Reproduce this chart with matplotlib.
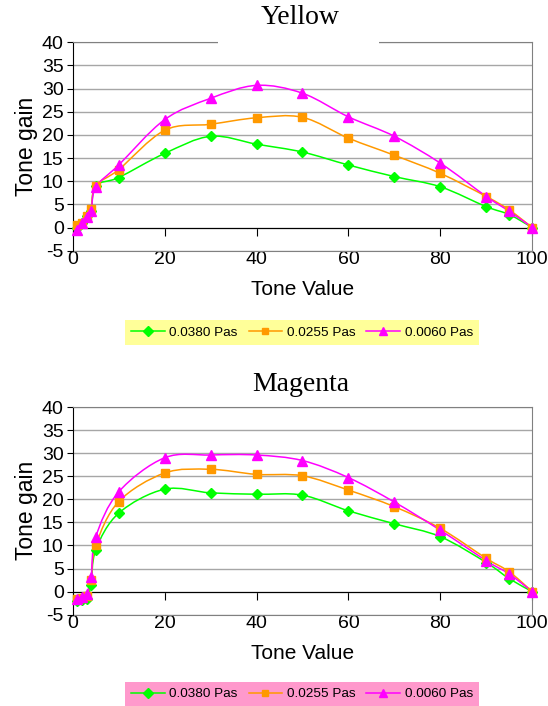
import numpy as np
import matplotlib
matplotlib.use("Agg")
import matplotlib.pyplot as plt
from matplotlib.path import Path
from matplotlib.patches import PathPatch, Rectangle
from matplotlib.lines import Line2D

plt.rcParams['font.family'] = ['Liberation Sans', 'DejaVu Sans']
plt.rcParams['axes.unicode_minus'] = False

# ---------------------------------------------------------
# Data
# ---------------------------------------------------------
tone_value = [1, 2, 3, 4, 5, 10, 20, 30, 40, 50, 60, 70, 80, 90, 95, 100]
series_labels = ["0.0380 Pas", "0.0255 Pas", "0.0060 Pas"]

yellow_0380 = [0.0, 1.0, 2.5, 3.5, 9.0, 10.8, 16.0, 19.7, 18.0, 16.3, 13.5, 11.0, 8.8, 4.5, 2.8, 0.0]
yellow_0255 = [0.5, 1.0, 2.5, 4.0, 9.0, 12.5, 21.0, 22.3, 23.7, 23.8, 19.3, 15.6, 11.7, 6.7, 3.8, 0.0]
yellow_0060 = [-0.5, 1.0, 2.3, 3.5, 8.7, 13.5, 23.3, 27.9, 30.7, 29.0, 23.9, 19.7, 13.9, 6.7, 3.5, 0.0]

magenta_0380 = [-2.0, -1.8, -1.5, 1.5, 9.0, 17.0, 22.2, 21.4, 21.1, 20.9, 17.5, 14.7, 11.9, 6.3, 2.8, 0.0]
magenta_0255 = [-1.5, -1.3, -1.0, 2.5, 10.0, 19.5, 25.7, 26.5, 25.4, 25.1, 22.0, 18.4, 13.7, 7.2, 4.3, 0.0]
magenta_0060 = [-1.5, -1.2, -0.5, 3.2, 11.8, 21.6, 29.0, 29.6, 29.6, 28.4, 24.7, 19.4, 13.3, 6.7, 3.8, 0.0]

colors = ["#00FF00", "#FF9900", "#FF00FF"]
markers = ["D", "s", "^"]
msizes = [5.5, 5.5, 7]


def smooth_path(x, y):
    """Excel-like smoothed line: cubic Bezier segments (Catmull-Rom)."""
    p = np.column_stack([x, y]).astype(float)
    ext = np.vstack([p[0], p, p[-1]])
    verts = [p[0]]
    codes = [Path.MOVETO]
    for i in range(len(p) - 1):
        p0, p1, p2, p3 = ext[i], ext[i + 1], ext[i + 2], ext[i + 3]
        c1 = p1 + (p2 - p0) / 6.0
        c2 = p2 - (p3 - p1) / 6.0
        verts += [c1, c2, p2]
        codes += [Path.CURVE4] * 3
    return Path(verts, codes)


def draw_chart(ax, data):
    ax.set_xlim(0, 100)
    ax.set_ylim(-5, 40)
    ax.set_yticks(np.arange(-5, 41, 5))
    ax.set_xticks(np.arange(0, 101, 20))
    ax.yaxis.grid(True, color="#A6A6A6", lw=1.0)
    ax.set_axisbelow(True)

    for ys, c, m, ms in zip(data, colors, markers, msizes):
        ax.add_patch(PathPatch(smooth_path(tone_value, ys), fc="none", ec=c, lw=1.1, zorder=3))
        ax.plot(tone_value, ys, ls="none", marker=m, color=c, ms=ms, zorder=4, clip_on=False)

    # frame: black left spine, grey border, x axis line at 0
    for s in ["top", "right"]:
        ax.spines[s].set_color("#808080")
    ax.spines["left"].set_color("black")
    ax.spines["bottom"].set_position(("data", 0))
    ax.spines["bottom"].set_color("black")
    ax.tick_params(axis="x", direction="out", length=6, color="black", labelbottom=False)
    ax.tick_params(axis="y", direction="out", length=4, labelsize=14, pad=2.5)

    sec = ax.secondary_xaxis(0.0)
    sec.set_xticks(np.arange(0, 101, 20))
    sec.tick_params(length=0, labelsize=14, pad=0.5)
    sec.spines["bottom"].set_color("#808080")

    ax.set_ylabel("Tone gain", fontsize=16.5, labelpad=3)
    sec.set_xlabel("Tone Value", fontsize=15, labelpad=8)

    handles = [Line2D([], [], color=c, marker=m, ms=ms * 0.85, lw=1.1)
               for c, m, ms in zip(colors, markers, msizes)]
    return handles


fig = plt.figure(figsize=(5.48, 7.06), dpi=100)
ax1 = fig.add_axes([0.1327, 0.6449, 0.8386, 0.2952])
ax2 = fig.add_axes([0.1327, 0.1293, 0.8386, 0.2942])

h1 = draw_chart(ax1, [yellow_0380, yellow_0255, yellow_0060])
h2 = draw_chart(ax2, [magenta_0380, magenta_0255, magenta_0060])

# title box hides part of the top border in the upper chart
fig.patches.append(Rectangle((218 / 548, 1 - 46 / 706), 161 / 548, 10 / 706,
                             transform=fig.transFigure, fc="white", ec="none", zorder=5))

fig.text(0.5485, 1 - 18 / 706, "Yellow", ha="center", va="center", fontsize=20,
         family="Liberation Serif")
fig.text(0.5485, 1 - 384 / 706, "Magenta", ha="center", va="center", fontsize=20,
         family="Liberation Serif")

for h, yc, col in [(h1, 1 - 332.5 / 706, "#FFFF99"), (h2, 1 - 694 / 706, "#FF99CC")]:
    leg = fig.legend(h, series_labels, loc="center", bbox_to_anchor=(302 / 548, yc),
                     ncol=3, fontsize=9.7, frameon=True, fancybox=False,
                     handlelength=2.5, handletextpad=0.35, columnspacing=0.8,
                     borderpad=0.45, borderaxespad=0)
    leg.get_frame().set_facecolor(col)
    leg.get_frame().set_edgecolor("none")
    leg.get_frame().set_alpha(1)

fig.savefig("out.png", dpi=100)
